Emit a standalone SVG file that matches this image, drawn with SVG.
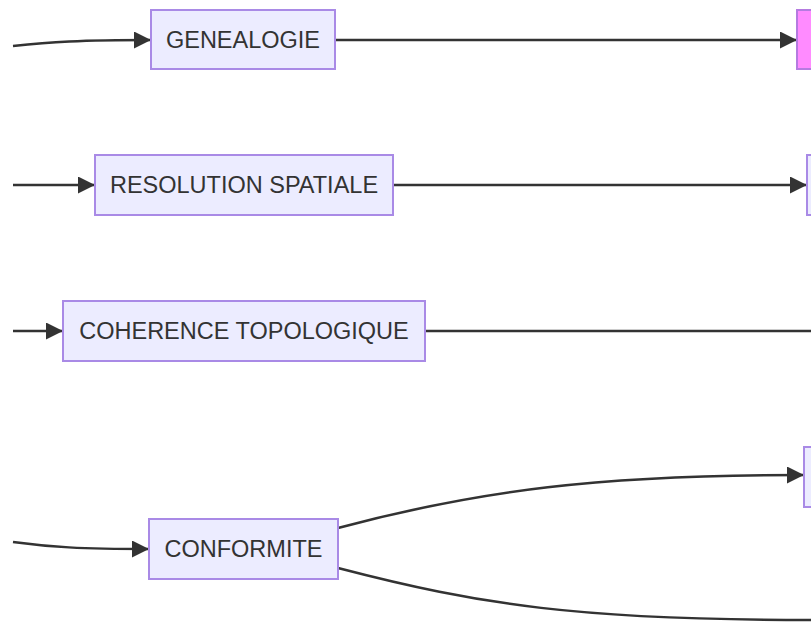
<svg xmlns="http://www.w3.org/2000/svg" width="811" height="623" viewBox="0 0 811 623">
<defs>
<style>
.node rect{fill:#ECECFF;stroke:#A98AE6;stroke-width:2}
.node text{font-family:"Liberation Sans",Arial,sans-serif;font-size:23.5px;fill:#333;text-anchor:middle;dominant-baseline:central}
.edge{fill:none;stroke:#333;stroke-width:2.5}
.pink rect{fill:#FF8BFF;stroke:#B57BE0}
</style>
<marker id="arr" viewBox="0 0 10 10" refX="10" refY="5" markerUnits="userSpaceOnUse" markerWidth="17" markerHeight="17" orient="auto">
<path d="M0,0 L10,5 L0,10 z" fill="#333"/>
</marker>
</defs>
<rect width="811" height="623" fill="#fff"/>
<g id="edges">
<path class="edge" d="M13,46 C50,42 80,40 151,40" marker-end="url(#arr)"/>
<path class="edge" d="M335,40 L797,40" marker-end="url(#arr)"/>
<path class="edge" d="M13,185 L95,185" marker-end="url(#arr)"/>
<path class="edge" d="M393,185 L807,185" marker-end="url(#arr)"/>
<path class="edge" d="M13,331 L63,331" marker-end="url(#arr)"/>
<path class="edge" d="M425,331 L811,331"/>
<path class="edge" d="M13,542 C50,547 80,549 149,549" marker-end="url(#arr)"/>
<path class="edge" d="M338,528 C480,490 600,475 804,475" marker-end="url(#arr)"/>
<path class="edge" d="M338,568 C480,605 580,620 811,620"/>
</g>
<g id="genealogie" class="node"><rect x="151" y="10" width="184" height="59"/><text x="243" y="40">GENEALOGIE</text></g>
<g id="resolution" class="node"><rect x="95" y="155" width="298" height="60"/><text x="244" y="185">RESOLUTION SPATIALE</text></g>
<g id="coherence" class="node"><rect x="63" y="301" width="362" height="60"/><text x="244" y="331">COHERENCE TOPOLOGIQUE</text></g>
<g id="conformite" class="node"><rect x="149" y="519" width="189" height="60"/><text x="243.5" y="549">CONFORMITE</text></g>
<g id="right1" class="node pink"><rect x="797" y="10" width="40" height="59"/></g>
<g id="right2" class="node"><rect x="807" y="155" width="40" height="60"/></g>
<g id="right3" class="node"><rect x="804" y="447" width="40" height="60"/></g>
</svg>
